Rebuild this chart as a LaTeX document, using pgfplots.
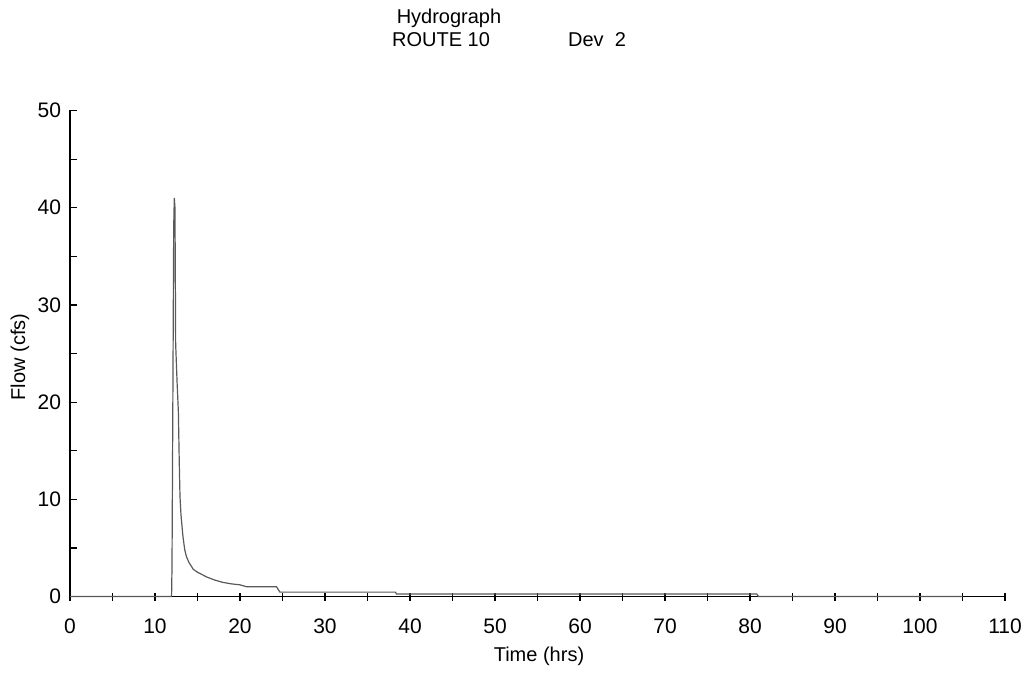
\documentclass[border=0pt]{standalone}
\usepackage{pgfplots}
\pgfplotsset{compat=1.18}
\usepackage{fontspec}
\setmainfont{Liberation Sans}
\begin{document}
\begin{tikzpicture}[x=1pt,y=1pt]
\fontsize{10}{12}\selectfont
\path[use as bounding box] (-35,-38) rectangle (478.5,298.5);
\begin{axis}[
  name=ax,
  at={(0,0.5)}, anchor=south west,
  scale only axis,
  width=467.5pt, height=243pt,
  xmin=0, xmax=110, ymin=0, ymax=50,
  axis lines*=left,
  axis line style={black, line width=0.6pt},
  xtick={0,10,...,110},
  minor xtick={5,15,...,105},
  ytick={0,10,...,50},
  minor ytick={5,15,...,45},
  tick align=inside,
  major tick length=4pt, minor tick length=4pt,
  x tick style={black, line width=0.6pt, yshift=-2pt},
  y tick style={black, line width=0.6pt, xshift=-0.5pt},
  tick label style={font=\fontsize{10.5}{12}\selectfont},
  xticklabel style={yshift=-7.5pt},
  yticklabel style={xshift=-1pt},
  /pgf/number format/assume math mode=true,
  clip=false,
]
\addplot[gray!70!black, line width=0.6pt] coordinates {
(0,0) (11.95,0) (12.0,3) (12.1,20) (12.2,38) (12.27,41) (12.35,40)
(12.43,26) (12.6,22) (12.75,19) (12.85,14) (12.94,10.3) (13.05,8.5)
(13.14,7.6) (13.25,6.5) (13.33,5.9) (13.5,4.8) (13.7,4.1) (14.0,3.5)
(14.5,2.8) (15.0,2.5) (16.1,2.0) (17,1.7) (18.0,1.45) (19,1.3) (20,1.2)
(20.8,1.0) (24.3,1.0) (24.7,0.45) (38.3,0.45) (38.4,0.25) (80.8,0.25)
(81,0) (105,0)
};
\end{axis}
\node[anchor=base, inner sep=0pt] at (189.5,286.5) {Hydrograph};
\node[anchor=base, inner sep=0pt] at (185.5,275.2) {ROUTE 10};
\node[anchor=base, inner sep=0pt] at (263.5,275.2) {Dev\ \ 2};
\node[rotate=90] at (-25,120) {Flow (cfs)};
\node at (234.5,-29.5) {Time (hrs)};
\end{tikzpicture}
\end{document}
